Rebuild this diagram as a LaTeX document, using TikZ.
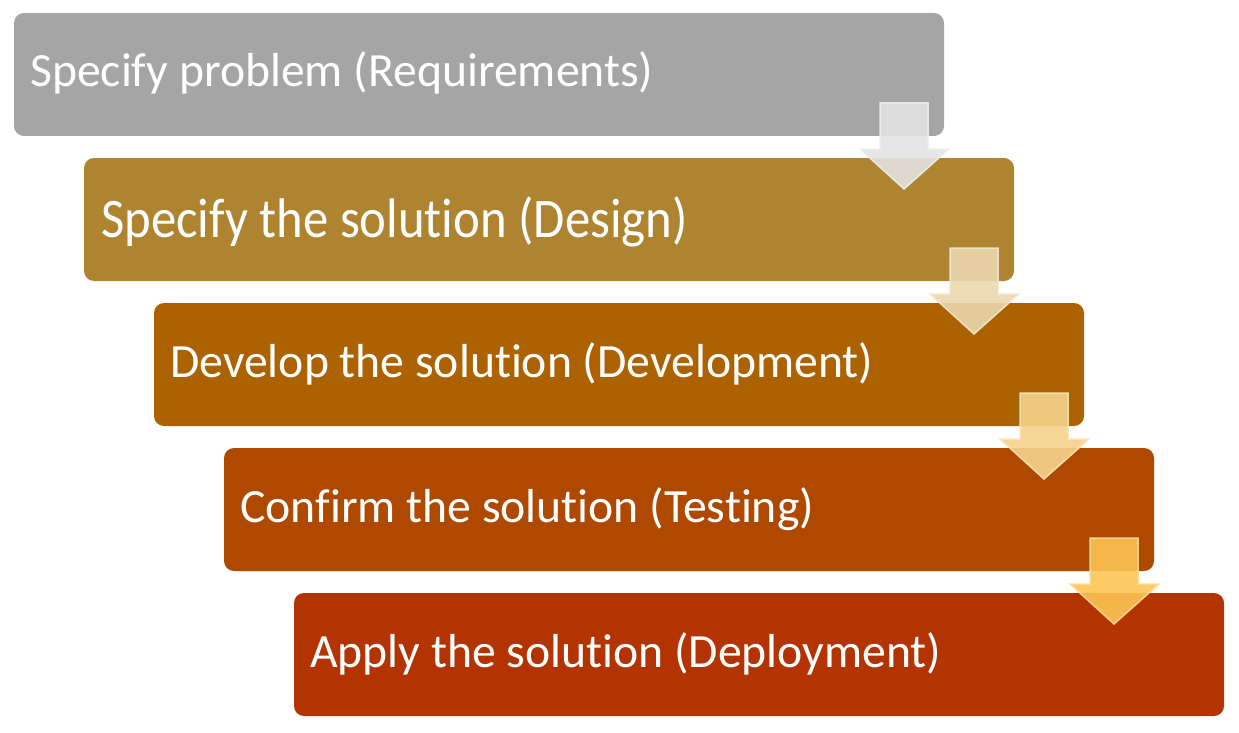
\documentclass[tikz,border=0pt]{standalone}
\usepackage{fontspec}
\setmainfont[Ligatures=NoCommon]{Carlito}
\definecolor{boxA}{HTML}{A5A5A5}
\definecolor{boxB}{HTML}{AF8431}
\definecolor{boxC}{HTML}{AD6200}
\definecolor{boxD}{HTML}{B04900}
\definecolor{boxE}{HTML}{B33400}
\definecolor{arrA}{HTML}{E3E3E3}
\definecolor{arrB}{HTML}{EBD7AD}
\definecolor{arrC}{HTML}{F5D28C}
\definecolor{arrD}{HTML}{FDC453}
\tikzset{
  stepbox/.style={fill=#1, draw=none, rounded corners=10pt},
  steptext/.style={anchor=base west, inner sep=0pt, text=white, font=\fontsize{47.7}{56}\selectfont},
  blockarrow/.style={fill=#1, fill opacity=0.9, draw=#1!60!white, draw opacity=0.9, line width=1.5pt, line join=miter}
}
\begin{document}
\begin{tikzpicture}[x=1pt,y=-1pt]
\useasboundingbox (0,0) rectangle (1239,733);
% boxes
\foreach \i/\c in {0/boxA,1/boxB,2/boxC,3/boxD,4/boxE}{
  \fill[stepbox=\c] ({14+70*\i},{13+145*\i}) rectangle ++(930,123);
}
% texts
\node[steptext] (t1) at (30,87) {Specify problem (Requirements)};
\node[steptext, font=\fontsize{50.75}{60}\selectfont] (t2) at (101,237) {\scalebox{1}[1.1]{Specify the solution (Design)}};
\node[steptext] (t3) at (170,377) {Develop the solution (Development)};
\node[steptext] (t4) at (240,522) {Confirm the solution (Testing)};
\node[steptext] (t5) at (310,667) {Apply the solution (Deployment)};
% arrows
\foreach \i/\c in {0/arrA,1/arrB,2/arrC,3/arrD}{
  \begin{scope}[shift={({70*\i},{145*\i})}]
  \path[blockarrow=\c] (880,103) -- (928,103) -- (928,149) -- (949,149)
     -- (904,189) -- (860,149) -- (880,149) -- cycle;
  \end{scope}
}
\end{tikzpicture}
\end{document}
